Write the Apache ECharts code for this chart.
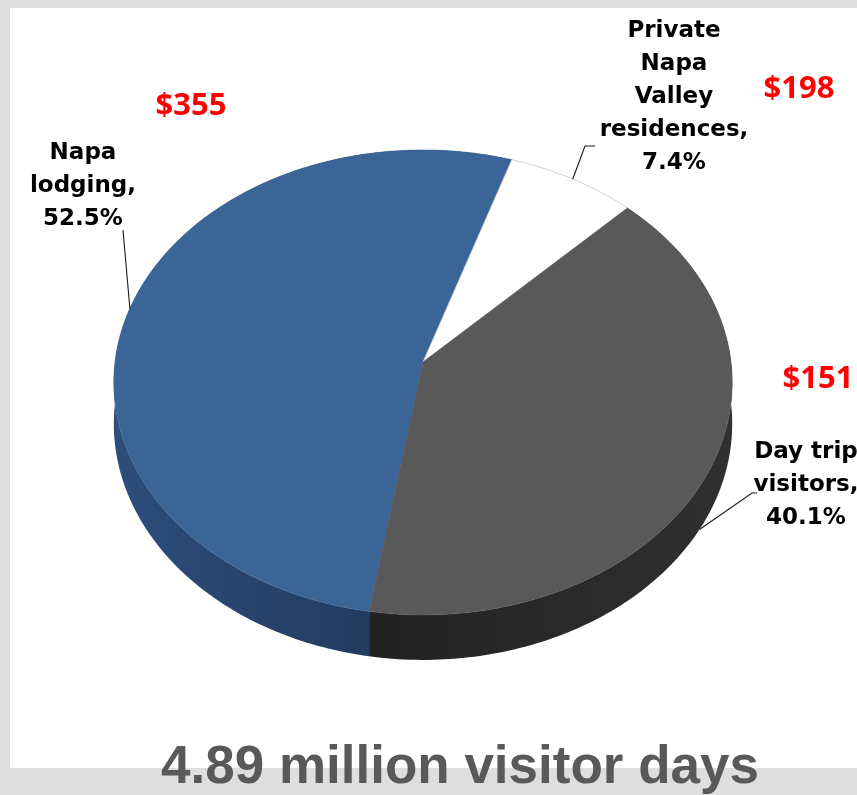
<!DOCTYPE html>
<html>
<head>
<meta charset="utf-8">
<title>Napa Valley visitor days</title>
<script src="https://cdn.jsdelivr.net/npm/echarts@6/dist/echarts.min.js"></script>
<style>
  html, body { margin: 0; padding: 0; background: #dedede; }
  #chart { width: 857px; height: 795px; }
</style>
</head>
<body>
<div id="chart"></div>
<script>
// Visitor segments, their share of visitor days, and spending per visitor day
const categories = ['Napa lodging', 'Private Napa Valley residences', 'Day trip visitors'];
const labelLines = [['Napa', 'lodging,'], ['Private', 'Napa', 'Valley', 'residences,'], ['Day trip', 'visitors,']];
const shares = [52.5, 7.4, 40.1];
const spendPerDay = [355, 198, 151];
const titleText = '4.89 million visitor days';

// Pie geometry (tilted disc seen in perspective)
const PIE = { cx: 423, cy: 362, rx: 308, ry: 230.7, persp: 0.088, depth: 41, start: 99.2 };
const topColors = ['#3b6597', '#ffffff', '#595959'];
const sideColors = [
  ['#2d4d7b', '#1d3150'],
  ['#d9d9d9', '#d9d9d9'],
  ['#222222', '#303030']
];
// Label placement for each slice
const labelPos = [[83, 186], [674, 97], [806, 485]];
const leaderStart = [[[123, 230]], [[595, 146], [585, 146]], [[757, 493], [752, 493]]];
const leaderAngleShift = [0, 0, 4];
const leaderDrop = [0, 0, 1];
const spendPos = [[191, 106], [799, 89], [818, 379]];

const total = shares.reduce((a, b) => a + b, 0);
const deg = Math.PI / 180;

function rim(t, drop) {
  const c = Math.cos(t), s = Math.sin(t);
  const k = 1 / (1 - PIE.persp * s);
  return [PIE.cx + PIE.rx * c * k, PIE.cy + PIE.ry * s * k + (drop || 0) * k];
}

function arcPoints(a0, a1, drop) {
  const n = Math.max(4, Math.ceil(Math.abs(a1 - a0) / deg));
  const pts = [];
  for (let i = 0; i <= n; i++) pts.push(rim(a0 + (a1 - a0) * i / n, drop));
  return pts;
}

function renderSlice(params, api) {
  const i = params.dataIndex;
  const v = api.value(0);
  let before = 0;
  for (let j = 0; j < i; j++) before += shares[j];
  const a0 = PIE.start * deg + before / total * 2 * Math.PI;
  const a1 = a0 + v / total * 2 * Math.PI;
  const mid = (a0 + a1) / 2 + leaderAngleShift[i] * deg;

  const topRim = arcPoints(a0, a1, 0);
  const bottomRim = arcPoints(a1, a0, PIE.depth);
  const xs = topRim.map(p => p[0]);
  const sideFill = new echarts.graphic.LinearGradient(
    Math.min(...xs), 0, Math.max(...xs), 0,
    [{ offset: 0, color: sideColors[i][0] }, { offset: 1, color: sideColors[i][1] }], true);

  const end = rim(mid, PIE.depth * leaderDrop[i]);
  const leader = leaderStart[i].concat([end]);

  const isWhite = topColors[i] === '#ffffff';
  const pct = v.toFixed(1) + '%';
  return {
    type: 'group',
    children: [
      {
        type: 'polygon', z2: 1,
        shape: { points: topRim.concat(bottomRim) },
        style: { fill: sideFill }
      },
      {
        type: 'polygon', z2: 5,
        shape: { points: [[PIE.cx, PIE.cy]].concat(topRim) },
        style: {
          fill: topColors[i],
          stroke: isWhite ? '#c8c8c8' : topColors[i],
          lineWidth: isWhite ? 0.8 : 0.5
        }
      },
      {
        type: 'polyline', z2: 8,
        shape: { points: leader },
        style: { stroke: '#1a1a1a', lineWidth: 1.1, fill: null }
      },
      {
        type: 'text', z2: 9,
        style: {
          text: labelLines[i].concat([pct]).join('\n'),
          x: labelPos[i][0], y: labelPos[i][1],
          align: 'center', verticalAlign: 'middle',
          font: 'bold 23px "DejaVu Sans"',
          lineHeight: 33,
          fill: '#000000'
        }
      },
      {
        type: 'text', z2: 9,
        style: {
          text: '$' + spendPerDay[i],
          x: spendPos[i][0], y: spendPos[i][1],
          align: 'center', verticalAlign: 'middle',
          font: 'bold 31px "Noto Sans"',
          fill: '#ff0000'
        }
      }
    ]
  };
}

const chart = echarts.init(document.getElementById('chart'), null, { renderer: 'canvas' });
chart.setOption({
  backgroundColor: '#dedede',
  animation: false,
  title: {
    text: titleText,
    left: 156, top: 737,
    textStyle: { fontSize: 53, fontWeight: 'bold', color: '#595959', fontFamily: '"Liberation Sans", Arial, sans-serif' }
  },
  graphic: [
    { type: 'rect', z: 0, shape: { x: 10, y: 8, width: 847, height: 760 }, style: { fill: '#ffffff' } }
  ],
  series: [{
    type: 'custom',
    coordinateSystem: 'none',
    z: 5,
    renderItem: renderSlice,
    data: shares.map((v, i) => ({ name: categories[i], value: v }))
  }]
});
</script>
</body>
</html>
